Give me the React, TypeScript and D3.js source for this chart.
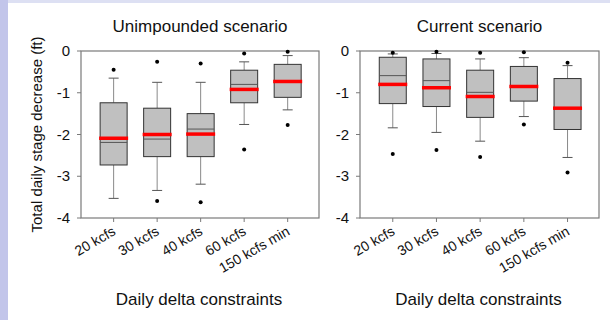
import React, { useRef, useEffect } from 'react';
import * as d3 from 'd3';

// categories on the x axis
const categories = ['20 kcfs', '30 kcfs', '40 kcfs', '60 kcfs', '150 kcfs min'];
const yTicks = [0, -1, -2, -3, -4];

// Unimpounded scenario
const unimpWhiskerHi = [-0.65, -0.75, -0.75, -0.26, -0.11];
const unimpQ3 = [-1.24, -1.37, -1.5, -0.46, -0.32];
const unimpMedian = [-2.19, -2.11, -1.87, -0.8, -0.72];
const unimpMean = [-2.09, -2.0, -1.99, -0.92, -0.73];
const unimpQ1 = [-2.73, -2.53, -2.53, -1.24, -1.11];
const unimpWhiskerLo = [-3.53, -3.34, -3.19, -1.76, -1.41];
const unimpOutliers = [[-0.45], [-0.26, -3.59], [-0.3, -3.62], [-0.06, -2.36], [-0.02, -1.77]];

// Current scenario
const currWhiskerHi = [-0.07, -0.06, -0.19, -0.16, -0.35];
const currQ3 = [-0.15, -0.19, -0.46, -0.37, -0.66];
const currMedian = [-0.59, -0.71, -0.99, -0.83, -1.37];
const currMean = [-0.8, -0.88, -1.09, -0.85, -1.37];
const currQ1 = [-1.26, -1.33, -1.59, -1.2, -1.88];
const currWhiskerLo = [-1.84, -1.95, -2.16, -1.57, -2.55];
const currOutliers = [[-0.04, -2.47], [-0.02, -2.37], [-0.04, -2.54], [-0.03, -1.76], [-0.28, -2.91]];

interface Panel {
  title: string;
  left: number;
  right: number;
  hi: number[];
  q3: number[];
  med: number[];
  mean: number[];
  q1: number[];
  lo: number[];
  out: number[][];
}

const panels: Panel[] = [
  { title: 'Unimpounded scenario', left: 81, right: 319, hi: unimpWhiskerHi, q3: unimpQ3, med: unimpMedian, mean: unimpMean, q1: unimpQ1, lo: unimpWhiskerLo, out: unimpOutliers },
  { title: 'Current scenario', left: 360, right: 599, hi: currWhiskerHi, q3: currQ3, med: currMedian, mean: currMean, q1: currQ1, lo: currWhiskerLo, out: currOutliers },
];

const App: React.FC = () => {
  const svgRef = useRef<SVGSVGElement | null>(null);

  useEffect(() => {
    if (!svgRef.current) return;
    const svg = d3.select(svgRef.current);
    svg.selectAll('*').remove();

    const width = 610;
    const height = 320;
    const top = 51;
    const bottom = 218;
    const font = 'Liberation Sans, Arial, sans-serif';

    // page background with lavender edges
    svg.append('rect').attr('width', width).attr('height', height).attr('fill', '#ffffff');
    svg.append('rect').attr('width', width).attr('height', 3).attr('fill', '#dde0f3');
    svg.append('rect').attr('width', 8).attr('height', height).attr('fill', '#c2c5ea');

    const y = d3.scaleLinear().domain([-4, 0]).range([bottom, top]);

    panels.forEach(p => {
      const x = d3.scaleLinear().domain([0.25, 5.72]).range([p.left, p.right]);
      const g = svg.append('g');
      const boxW = 27;

      // frame
      g.append('rect')
        .attr('x', p.left).attr('y', top)
        .attr('width', p.right - p.left).attr('height', bottom - top)
        .attr('fill', 'none').attr('stroke', '#7a7a7a').attr('stroke-width', 1.2);

      // y ticks
      yTicks.forEach(t => {
        g.append('line')
          .attr('x1', p.left - 4).attr('x2', p.left)
          .attr('y1', y(t)).attr('y2', y(t))
          .attr('stroke', '#7a7a7a');
        g.append('text')
          .attr('x', p.left - 11).attr('y', y(t) + 5)
          .attr('text-anchor', 'end')
          .attr('font-family', font).attr('font-size', 15)
          .attr('fill', '#111')
          .text(t === 0 ? '0' : String(t));
      });

      categories.forEach((c, i) => {
        const cx = x(i + 1);
        // x tick
        g.append('line')
          .attr('x1', cx).attr('x2', cx)
          .attr('y1', bottom).attr('y2', bottom + 4)
          .attr('stroke', '#7a7a7a');
        g.append('text')
          .attr('transform', `translate(${cx + 3},${bottom + 16}) rotate(-30)`)
          .attr('text-anchor', 'end')
          .attr('font-family', font).attr('font-size', 14)
          .attr('fill', '#111')
          .text(c);

        // whiskers
        g.append('line')
          .attr('x1', cx).attr('x2', cx)
          .attr('y1', y(p.hi[i])).attr('y2', y(p.q3[i]))
          .attr('stroke', '#8a8a8a');
        g.append('line')
          .attr('x1', cx).attr('x2', cx)
          .attr('y1', y(p.q1[i])).attr('y2', y(p.lo[i]))
          .attr('stroke', '#8a8a8a');
        [p.hi[i], p.lo[i]].forEach(v => {
          g.append('line')
            .attr('x1', cx - 5).attr('x2', cx + 5)
            .attr('y1', y(v)).attr('y2', y(v))
            .attr('stroke', '#555');
        });

        // box
        g.append('rect')
          .attr('x', cx - boxW / 2).attr('y', y(p.q3[i]))
          .attr('width', boxW).attr('height', y(p.q1[i]) - y(p.q3[i]))
          .attr('fill', '#c0c0c0').attr('stroke', '#333').attr('stroke-width', 1);

        // median
        g.append('line')
          .attr('x1', cx - boxW / 2).attr('x2', cx + boxW / 2)
          .attr('y1', y(p.med[i])).attr('y2', y(p.med[i]))
          .attr('stroke', '#555').attr('stroke-width', 1);

        // mean (red)
        g.append('line')
          .attr('x1', cx - boxW / 2 - 1).attr('x2', cx + boxW / 2 + 1)
          .attr('y1', y(p.mean[i])).attr('y2', y(p.mean[i]))
          .attr('stroke', '#ff0000').attr('stroke-width', 3.5);

        // outliers
        p.out[i].forEach(v => {
          g.append('circle')
            .attr('cx', cx).attr('cy', y(v)).attr('r', 2)
            .attr('fill', '#000');
        });
      });

      const mid = (p.left + p.right) / 2;
      g.append('text')
        .attr('x', mid).attr('y', 32)
        .attr('text-anchor', 'middle')
        .attr('font-family', font).attr('font-size', 17)
        .attr('fill', '#111')
        .text(p.title);
      g.append('text')
        .attr('x', mid - 1).attr('y', 305)
        .attr('text-anchor', 'middle')
        .attr('font-family', font).attr('font-size', 17)
        .attr('fill', '#111')
        .text('Daily delta constraints');
    });

    // y axis title
    svg.append('text')
      .attr('transform', `translate(42,${(top + bottom) / 2}) rotate(-90)`)
      .attr('text-anchor', 'middle')
      .attr('font-family', font).attr('font-size', 15)
      .attr('fill', '#111')
      .text('Total daily stage decrease (ft)');
  }, []);

  return (
    <svg ref={svgRef} width={610} height={320} style={{ position: 'absolute', left: 0, top: 0 }} />
  );
};

export default App;
